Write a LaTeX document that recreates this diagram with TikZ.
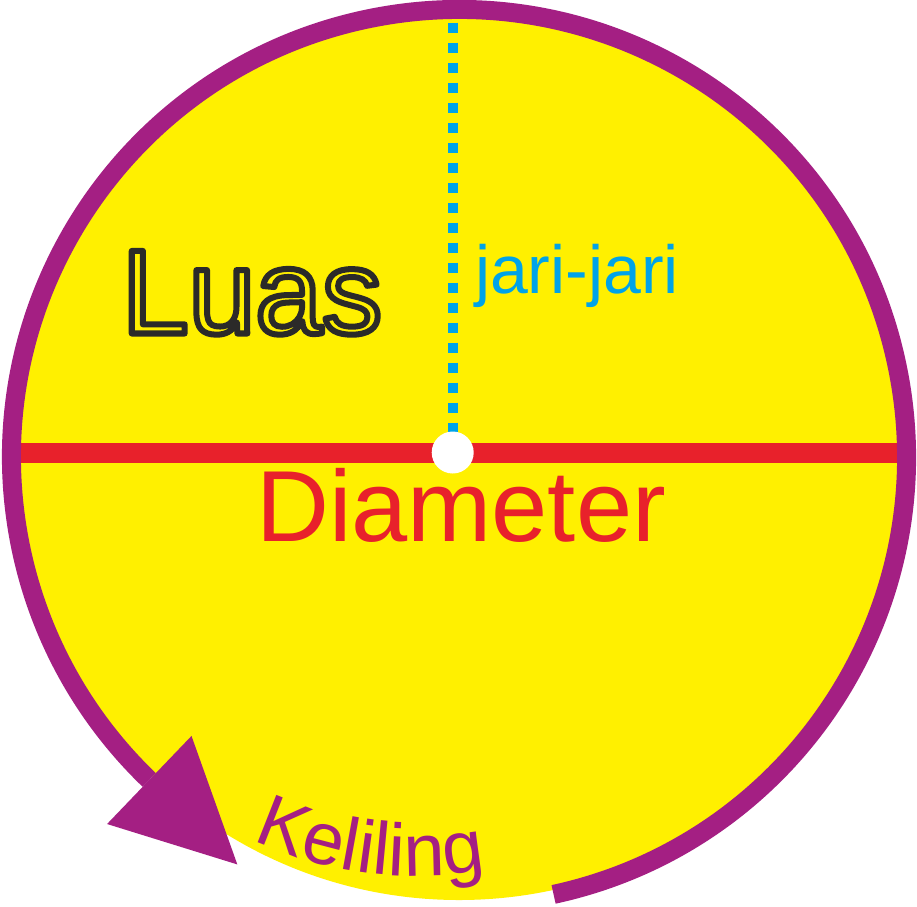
\documentclass[tikz,border=0pt]{standalone}
\usepackage{fontspec}
\setmainfont{Liberation Sans}
\usetikzlibrary{calc,decorations.text}
\definecolor{cyel}{RGB}{255,240,0}
\definecolor{cred}{RGB}{232,33,43}
\definecolor{cblue}{RGB}{0,163,232}
\definecolor{cpur}{RGB}{164,31,131}
\definecolor{cdark}{RGB}{43,42,41}
\newcommand\outlinetext[1]{\special{pdf:literal direct 2 Tr 6 w 1 j 0.169 0.165 0.161 RG}#1\special{pdf:literal direct 0 Tr}}
\tikzset{
  lbl/.style={inner sep=0pt, anchor=base},
  ringline/.style={draw=cpur, line width=19pt, line cap=butt},
  diam/.style={draw=cred, line width=20pt, line cap=butt},
  radius line/.style={draw=cblue, line width=10pt, line cap=butt, dash pattern=on 10pt off 10pt},
}
\begin{document}
\begin{tikzpicture}[x=1pt,y=1pt]
  \fill[white] (0,0) rectangle (917,-906);
  \path[use as bounding box] (0,0) rectangle (917,-906);
  \coordinate (cc) at (459,-457);
  \coordinate (kc) at (415,-496);
  % disk
  \fill[cyel] (cc) circle[radius=443];
  % diameter
  \coordinate (dl) at (12,-452.7);
  \coordinate (dr) at (906,-452.7);
  \path[diam] (dl) -- (dr);
  % radius
  \coordinate (rtop) at (452.7,-22.7);
  \coordinate (ctr) at (452.7,-452.5);
  \path[radius line] (rtop) -- (ctr);
  \node[circle, fill=white, minimum size=42pt, inner sep=0pt] (dot) at (ctr) {};
  % circumference ring with arrow
  \path[ringline] ($(cc)+(-77.8:447.5)$) arc[start angle=-77.8, end angle=226.2, radius=447.5];
  \fill[cpur] ($(cc)+(226.2:508.5)$) -- ($(cc)+(226.2:447.5)+(316.2:122)$) -- ($(cc)+(226.2:386.5)$) -- cycle;
  % labels
  \node[lbl, text=cyel, font=\fontsize{120}{120}\selectfont] (luas) at (252,-333.5) {\outlinetext{Luas}};
  \node[lbl, text=cblue, font=\fontsize{68}{68}\selectfont] (jari) at (577,-293.3) {jari-jari};
  \node[lbl, text=cred, font=\fontsize{101}{101}\selectfont] (diamlbl) at (461,-541.7) {Diameter};
  \path[decorate, decoration={text along path, text align=left,
      text={|\fontsize{74}{74}\selectfont\color{cpur}|Keliling}}]
      ($(kc)+(244.8:380)$) arc[start angle=244.8, end angle=292, radius=380];
\end{tikzpicture}
\end{document}
